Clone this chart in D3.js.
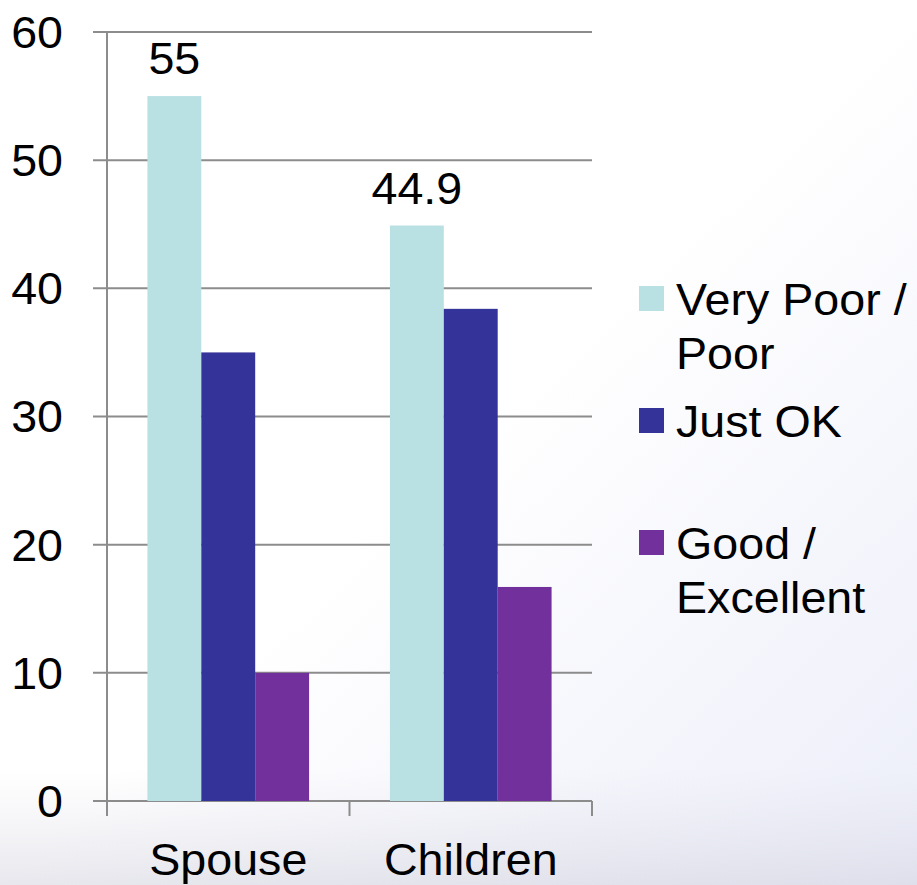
<!DOCTYPE html>
<html>
<head>
<meta charset="utf-8">
<script src="https://cdn.jsdelivr.net/npm/d3@7"></script>
<style>
html,body{margin:0;padding:0;background:#fff;}
svg{display:block;}
text{font-family:"Liberation Sans",Arial,sans-serif;fill:#000;}
</style>
</head>
<body>
<svg id="chart" width="917" height="885"></svg>
<script>
const categories = ["Spouse", "Children"];
const seriesNames = ["Very Poor / Poor", "Just OK", "Good / Excellent"];
const legendLines = [["Very Poor /", "Poor"], ["Just OK"], ["Good /", "Excellent"]];
const veryPoorPoor = [55, 44.9];
const justOK = [35, 38.4];
const goodExcellent = [10, 16.7];
const dataLabels = ["55", "44.9"];
const yTicks = [0, 10, 20, 30, 40, 50, 60];
const colors = ["#b9e0e3", "#343399", "#71309c"];

(function () {
const values = [veryPoorPoor, justOK, goodExcellent];
const svg = d3.select("#chart");
const W = 917, H = 885;

// background
const defs = svg.append("defs");
const g1 = defs.append("linearGradient").attr("id","bg").attr("x1","0").attr("y1","0").attr("x2","1").attr("y2","1");
g1.append("stop").attr("offset","0").attr("stop-color","#ffffff");
g1.append("stop").attr("offset","0.5").attr("stop-color","#ffffff");
g1.append("stop").attr("offset","1").attr("stop-color","#eceef9");
const g2 = defs.append("linearGradient").attr("id","bot").attr("x1","0").attr("y1","0").attr("x2","0").attr("y2","1");
g2.append("stop").attr("offset","0").attr("stop-color","#dcdce6").attr("stop-opacity","0");
g2.append("stop").attr("offset","1").attr("stop-color","#d0d0dc").attr("stop-opacity","0.5");
svg.append("rect").attr("width",W).attr("height",H).attr("fill","url(#bg)");
svg.append("rect").attr("x",0).attr("y",770).attr("width",W).attr("height",H-770).attr("fill","url(#bot)");

const pLeft = 107, pRight = 592, pTop = 32, pBottom = 801;
const y = d3.scaleLinear().domain([0, 60]).range([pBottom, pTop]);
const x0 = d3.scaleBand().domain(categories).range([pLeft, pRight]).paddingInner(0).paddingOuter(0);
const bw = x0.bandwidth();
const x1 = d3.scaleBand().domain(seriesNames).range([bw/6, bw*5/6]).padding(0);

const fs = 44;
const sx = 1.06;
const gridColor = "#8c8c8c";
const place = (x, yy) => `translate(${x},${yy}) scale(${sx},1)`;

// gridlines
svg.append("g").selectAll("line").data(yTicks).join("line")
  .attr("x1", pLeft - 14).attr("x2", pRight)
  .attr("y1", d => y(d)).attr("y2", d => y(d))
  .attr("stroke", gridColor).attr("stroke-width", 2);

// bars
const groups = svg.append("g").selectAll("g").data(categories).join("g")
  .attr("transform", d => `translate(${x0(d)},0)`);
groups.selectAll("rect").data((c, ci) => seriesNames.map((s, si) => ({s, si, v: values[si][ci]})))
  .join("rect")
  .attr("x", d => x1(d.s)).attr("width", x1.bandwidth())
  .attr("y", d => y(d.v)).attr("height", d => y(0) - y(d.v))
  .attr("fill", d => colors[d.si]);

// y axis line
svg.append("line").attr("x1", pLeft).attr("x2", pLeft).attr("y1", pTop).attr("y2", pBottom)
  .attr("stroke", gridColor).attr("stroke-width", 2);
// x axis ticks
const xTickPos = [pLeft, pLeft + bw, pRight];
svg.append("g").selectAll("line").data(xTickPos).join("line")
  .attr("x1", d => d).attr("x2", d => d).attr("y1", pBottom).attr("y2", pBottom + 15)
  .attr("stroke", gridColor).attr("stroke-width", 2);

// y tick labels
svg.append("g").selectAll("text").data(yTicks).join("text")
  .attr("transform", d => place(63, y(d)))
  .attr("dy", "0.36em")
  .attr("text-anchor", "end").attr("font-size", fs)
  .text(d => d);

// category labels
svg.append("g").selectAll("text").data(categories).join("text")
  .attr("transform", d => place(x0(d) + bw/2, 875))
  .attr("text-anchor", "middle").attr("font-size", fs)
  .text(d => d);

// data labels (first series)
svg.append("g").selectAll("text").data(categories).join("text")
  .attr("transform", (d, i) => place(x0(d) + x1(seriesNames[0]) + x1.bandwidth()/2, y(veryPoorPoor[i]) - 22))
  .attr("text-anchor", "middle").attr("font-size", fs)
  .text((d, i) => dataLabels[i]);

// legend
const legY = [286, 408, 530];
const leg = svg.append("g");
seriesNames.forEach((s, i) => {
  leg.append("rect").attr("x", 639).attr("y", legY[i]).attr("width", 25).attr("height", 25).attr("fill", colors[i]);
  legendLines[i].forEach((ln, j) => {
    leg.append("text").attr("transform", place(676, legY[i] + 29 + j * 54))
      .attr("font-size", fs).text(ln);
  });
});
})();
</script>
</body>
</html>
